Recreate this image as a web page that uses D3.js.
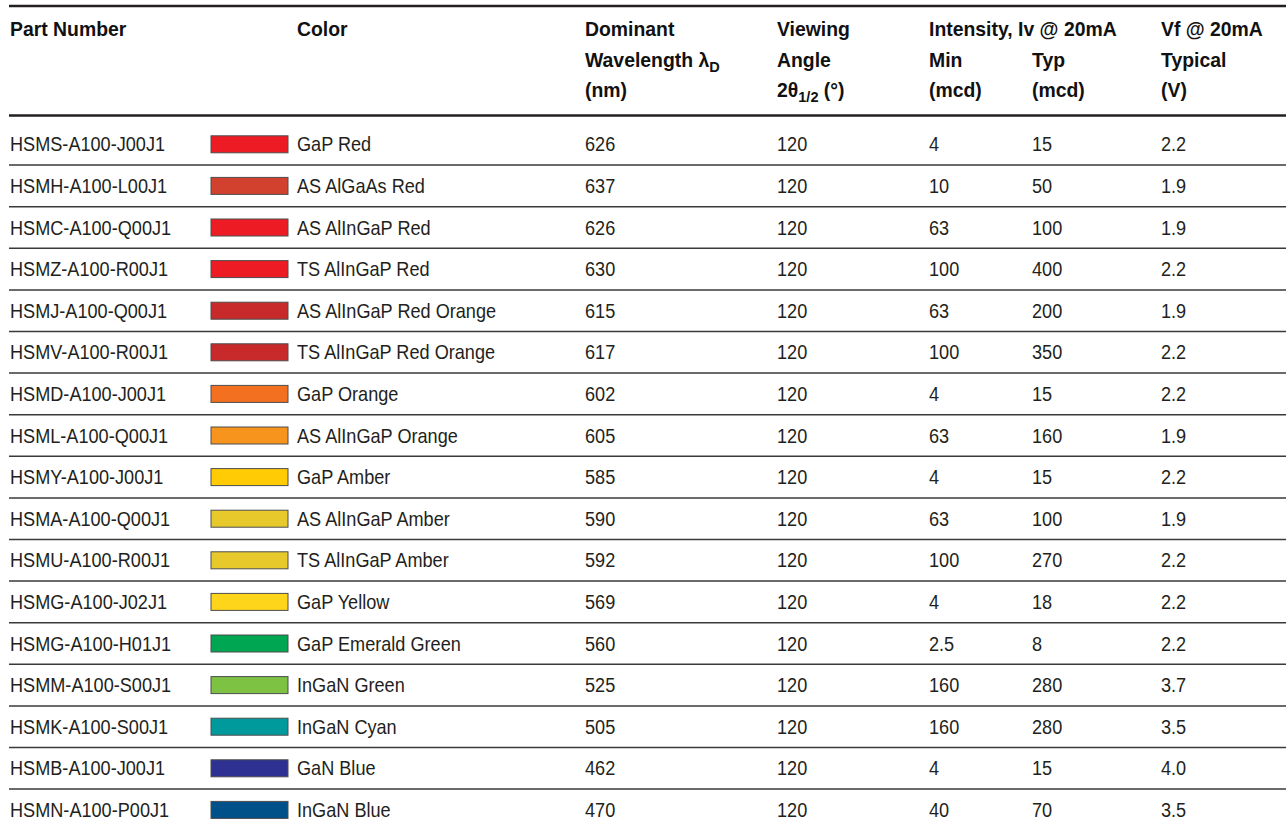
<!DOCTYPE html>
<html>
<head>
<meta charset="utf-8">
<script src="https://cdn.jsdelivr.net/npm/d3@7"></script>
<style>
  html, body { margin: 0; padding: 0; background: #fff; }
  svg { display: block; }
  .body-text text { font-family: "Liberation Sans", Arial, sans-serif; font-size: 19.5px; fill: #231f20; }
  .head-text text { font-family: "Liberation Sans", Arial, sans-serif; font-size: 20px; font-weight: bold; fill: #111; }
</style>
</head>
<body>
<svg id="chart" width="1286" height="831"></svg>
<script>
// ---- data ----
const partNumbers = ["HSMS-A100-J00J1","HSMH-A100-L00J1","HSMC-A100-Q00J1","HSMZ-A100-R00J1","HSMJ-A100-Q00J1","HSMV-A100-R00J1","HSMD-A100-J00J1","HSML-A100-Q00J1","HSMY-A100-J00J1","HSMA-A100-Q00J1","HSMU-A100-R00J1","HSMG-A100-J02J1","HSMG-A100-H01J1","HSMM-A100-S00J1","HSMK-A100-S00J1","HSMB-A100-J00J1","HSMN-A100-P00J1"];
const colorNames = ["GaP Red","AS AlGaAs Red","AS AlInGaP Red","TS AlInGaP Red","AS AlInGaP Red Orange","TS AlInGaP Red Orange","GaP Orange","AS AlInGaP Orange","GaP Amber","AS AlInGaP Amber","TS AlInGaP Amber","GaP Yellow","GaP Emerald Green","InGaN Green","InGaN Cyan","GaN Blue","InGaN Blue"];
const swatchFills = ["#ed1c24","#d2412e","#ed1c24","#ed1c24","#c8292a","#c8292a","#f37021","#f7941d","#ffcb05","#e8c92c","#e8c92c","#ffd51c","#00a651","#7dc242","#00999c","#2e3192","#00508a"];
const wavelengths = ["626","637","626","630","615","617","602","605","585","590","592","569","560","525","505","462","470"];
const viewingAngles = ["120","120","120","120","120","120","120","120","120","120","120","120","120","120","120","120","120"];
const ivMin = ["4","10","63","100","63","100","4","63","4","63","100","4","2.5","160","160","4","40"];
const ivTyp = ["15","50","100","400","200","350","15","160","15","100","270","18","8","280","280","15","70"];
const vfTypical = ["2.2","1.9","1.9","2.2","1.9","2.2","2.2","1.9","2.2","1.9","2.2","2.2","2.2","3.7","3.5","4.0","3.5"];
const columnKeys = ["part","swatch","color","wave","angle","min","typ","vf"];

// ---- layout ----
const W = 1286;
const BODY_SX = 0.93, HEAD_SX = 0.97;
const svg = d3.select("#chart");
const x = d3.scaleOrdinal().domain(columnKeys).range([10, 211, 297, 585, 777, 929, 1032, 1161]);
const rows = d3.range(partNumbers.length);
const y = d3.scaleBand().domain(rows).range([123.5, 123.5 + 41.6 * rows.length]).paddingInner(0).paddingOuter(0);

// header rules
svg.append("line").attr("x1", 9).attr("x2", W).attr("y1", 6).attr("y2", 6)
  .attr("stroke", "#231f20").attr("stroke-width", 2.4);
svg.append("line").attr("x1", 9).attr("x2", W).attr("y1", 115.5).attr("y2", 115.5)
  .attr("stroke", "#231f20").attr("stroke-width", 2.4);

// header text
const headerLines = [36, 66.5, 97];
const hdr = svg.append("g").attr("class", "head-text");
function hText(col, line, parts) {
  const t = hdr.append("text")
    .attr("transform", `translate(${x(col)},${headerLines[line]}) scale(${HEAD_SX},1)`);
  parts.forEach(p => {
    const ts = t.append("tspan").text(p.t);
    if (p.sub) ts.attr("font-size", "15px").attr("dy", 5);
    if (p.up) ts.attr("dy", -5);
  });
}
hText("part", 0, [{t:"Part Number"}]);
hText("color", 0, [{t:"Color"}]);
hText("wave", 0, [{t:"Dominant"}]);
hText("wave", 1, [{t:"Wavelength "}, {t:"λ"}, {t:"D", sub:true}]);
hText("wave", 2, [{t:"(nm)"}]);
hText("angle", 0, [{t:"Viewing"}]);
hText("angle", 1, [{t:"Angle"}]);
hText("angle", 2, [{t:"2θ"}, {t:"1/2", sub:true}, {t:" (°)", up:true}]);
hText("min", 0, [{t:"Intensity, Iv @ 20mA"}]);
hText("min", 1, [{t:"Min"}]);
hText("min", 2, [{t:"(mcd)"}]);
hText("typ", 1, [{t:"Typ"}]);
hText("typ", 2, [{t:"(mcd)"}]);
hText("vf", 0, [{t:"Vf @ 20mA"}]);
hText("vf", 1, [{t:"Typical"}]);
hText("vf", 2, [{t:"(V)"}]);

// row separators
svg.append("g").selectAll("line").data(rows.slice(1)).join("line")
  .attr("x1", 9).attr("x2", W)
  .attr("y1", d => y(d)).attr("y2", d => y(d))
  .attr("stroke", "#3a3a3a").attr("stroke-width", 1.5);

// rows
const g = svg.append("g").attr("class", "body-text");
const rowG = g.selectAll("g.row").data(rows).join("g").attr("class", "row")
  .attr("transform", d => `translate(0,${y(d) + y.bandwidth() / 2})`);

rowG.append("rect")
  .attr("x", x("swatch")).attr("y", -8.5).attr("width", 77).attr("height", 17)
  .attr("fill", d => swatchFills[d]).attr("stroke", "#4d4d4d").attr("stroke-width", 1);

const cols = [
  ["part", partNumbers], ["color", colorNames], ["wave", wavelengths], ["angle", viewingAngles],
  ["min", ivMin], ["typ", ivTyp], ["vf", vfTypical]
];
cols.forEach(([key, arr]) => {
  rowG.append("text")
    .attr("transform", `translate(${x(key)},7) scale(${BODY_SX},1)`)
    .text(d => arr[d]);
});
</script>
</body>
</html>
